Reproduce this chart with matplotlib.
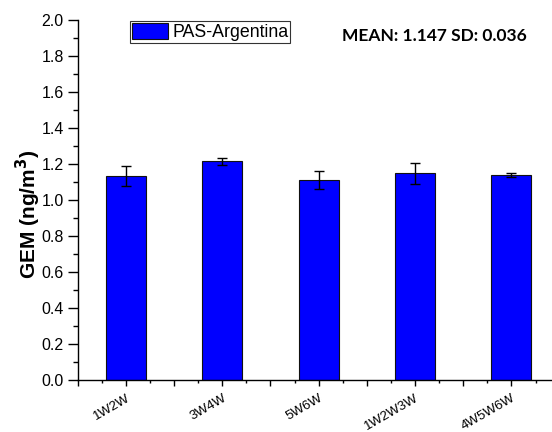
import matplotlib
matplotlib.use('Agg')
import matplotlib.pyplot as plt
from matplotlib.ticker import MultipleLocator

plt.rcParams['font.family'] = ['Liberation Sans', 'DejaVu Sans']

periods = ['1W2W', '3W4W', '5W6W', '1W2W3W', '4W5W6W']
gem = [1.133, 1.214, 1.109, 1.148, 1.139]
gem_sd = [0.058, 0.018, 0.050, 0.059, 0.013]

fig = plt.figure(figsize=(5.52, 4.32), dpi=100)
ax = fig.add_axes([0.1408, 0.1204, 0.873, 0.8333])

xs = list(range(len(periods)))
ax.bar(xs, gem, width=0.415, color='#0000ff', edgecolor='#111111', linewidth=0.8,
       label='PAS-Argentina', zorder=2)
ax.errorbar(xs, gem, yerr=gem_sd, fmt='none', ecolor='black', elinewidth=1.0,
            capsize=3.5, capthick=1.0, zorder=3)

ax.set_xlim(-0.5, 4.5)
ax.set_ylim(0, 2.0)
ax.yaxis.set_major_locator(MultipleLocator(0.2))
ax.yaxis.set_minor_locator(MultipleLocator(0.1))

# long ticks every half category, labels only on the bars
major_pos = [i * 0.5 - 0.5 for i in range(2 * len(periods) + 1)]
major_lab = [periods[int(p)] if p == int(p) and p >= 0 else '' for p in major_pos]
ax.set_xticks(major_pos)
ax.set_xticklabels(major_lab, rotation=30, ha='right', rotation_mode='anchor', fontsize=9.6)
ax.xaxis.set_minor_locator(MultipleLocator(0.25))
ax.set_yticklabels([f'{v:.1f}' for v in ax.get_yticks()], fontsize=11.5)

for s in ['top', 'right']:
    ax.spines[s].set_visible(False)
for s in ['left', 'bottom']:
    ax.spines[s].set_linewidth(1.0)
ax.tick_params(axis='y', which='major', length=7, width=1.0, pad=3)
ax.tick_params(axis='y', which='minor', length=3.5, width=1.0)
ax.tick_params(axis='x', which='major', length=4.5, width=1.0, pad=4)
ax.tick_params(axis='x', which='minor', length=2.2, width=1.0)

ax.set_ylabel('GEM (ng/m$^\\mathbf{3}$)', fontsize=15, fontweight='bold')
ax.yaxis.set_label_coords(-0.072, 0.461)

leg = fig.legend(loc='upper left', bbox_to_anchor=(0.2355, 0.951), fontsize=12.8,
                 frameon=True, fancybox=False, borderpad=0.12, handlelength=2.0,
                 handleheight=0.95, handletextpad=0.25, borderaxespad=0)
leg.get_frame().set_edgecolor('black')
leg.get_frame().set_linewidth(0.8)

ax.text(3.2, 1.911, 'MEAN: 1.147 SD: 0.036', fontsize=12.5, fontweight='bold',
        family=['Lato', 'DejaVu Sans'], ha='center', va='center')

fig.savefig('out.png', dpi=100)
